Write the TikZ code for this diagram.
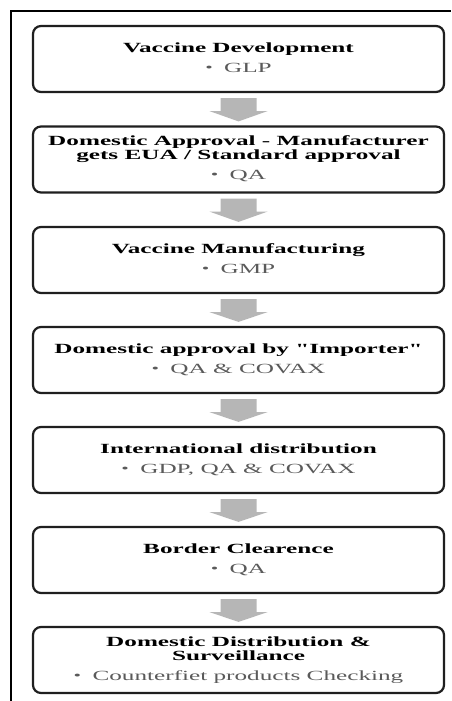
\documentclass[tikz,border=0pt]{standalone}
\usepackage{fontspec}
\usepackage{graphicx}
\setmainfont{Liberation Serif}
\usetikzlibrary{calc}

\definecolor{arrowgray}{RGB}{182,182,182}
\definecolor{subgray}{RGB}{90,90,90}

% small round bullet for the sub-items
\newcommand\smallbullet{\raisebox{0.15ex}{\scalebox{0.85}{\textbullet}}}
% wide stage label: bold title line(s) and one bullet item
\newcommand\stagetext[2]{\scalebox{1.8}[1]{\fontsize{14}{15}\selectfont
  \begin{tabular}{@{}c@{}}#1\\[5pt]{\color{subgray}\smallbullet\hspace{0.45em}#2}\end{tabular}}}

\tikzset{
  stage/.style={draw=black!88, line width=2.2pt, rounded corners=8pt,
    minimum width=411pt, minimum height=66pt, inner sep=0pt, fill=white},
  flowarrow/.style={fill=arrowgray, draw=none},
  frame/.style={line width=2pt, draw=black}
}

% block arrow from the bottom of one stage to the top of the next
\newcommand\flowarrow[2]{%
  \fill[flowarrow] ($(#1.south)+(-18,5)$) -- ($(#1.south)+(18,5)$)
    -- ($(#1.south)+(18,18)$) -- ($(#1.south)+(29,18)$)
    -- ($(#2.north)+(0,-4)$)
    -- ($(#1.south)+(-29,18)$) -- ($(#1.south)+(-18,18)$) -- cycle;}

\begin{document}
\begin{tikzpicture}[x=1pt,y=-1pt]
  \useasboundingbox (0,0) rectangle (451,701);
  \fill[white] (0,0) rectangle (451,701);

  % outer frame (left and top edges)
  \draw[frame] (11,701) -- (11,11) -- (451,11);

  \node[stage] (b1) at (238.5,59)
    {\stagetext{\textbf{Vaccine Development}}{GLP}};
  \node[stage] (b2) at (238.5,159.5)
    {\stagetext{\textbf{Domestic Approval - Manufacturer}\\[-1pt]\textbf{gets EUA / Standard approval}}{QA}};
  \node[stage] (b3) at (238.5,260)
    {\stagetext{\textbf{Vaccine Manufacturing}}{GMP}};
  \node[stage] (b4) at (238.5,360)
    {\stagetext{\textbf{Domestic approval by \textquotedbl Importer\textquotedbl}}{QA \& COVAX}};
  \node[stage] (b5) at (238.5,460)
    {\stagetext{\textbf{International distribution}}{GDP, QA \& COVAX}};
  \node[stage] (b6) at (238.5,560)
    {\stagetext{\textbf{Border Clearence}}{QA}};
  \node[stage] (b7) at (238.5,660)
    {\stagetext{\textbf{Domestic Distribution \&}\\[-1pt]\textbf{Surveillance}}{Counterfiet products Checking}};

  \flowarrow{b1}{b2}
  \flowarrow{b2}{b3}
  \flowarrow{b3}{b4}
  \flowarrow{b4}{b5}
  \flowarrow{b5}{b6}
  \flowarrow{b6}{b7}
\end{tikzpicture}
\end{document}
